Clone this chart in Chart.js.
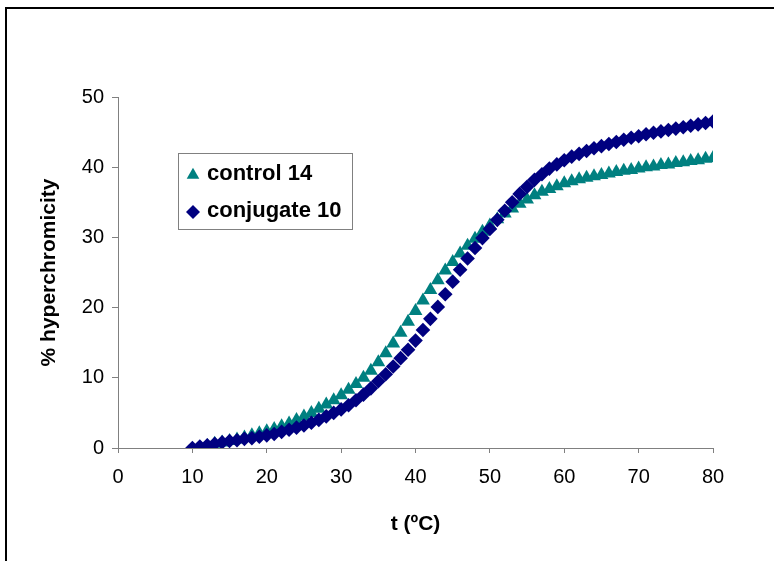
<!DOCTYPE html>
<html>
<head>
<meta charset="utf-8">
<script src="https://cdn.jsdelivr.net/npm/chart.js@4/dist/chart.umd.min.js"></script>
<style>
  body { margin: 0; background: #fff; }
  #wrap { position: relative; width: 774px; height: 561px; overflow: hidden; }
  #frame { position: absolute; left: 5px; top: 7px; width: 800px; height: 600px;
           border-top: 2px solid #000; border-left: 2px solid #000; pointer-events: none; }
</style>
</head>
<body>
<div id="wrap">
  <canvas id="chart" width="774" height="561"></canvas>
  <div id="frame"></div>
</div>
<script>
// temperature in degrees C, one reading per degree
var temps = [];
for (var t = 10; t <= 80; t++) temps.push(t);

var control14 = [
    -0.3, 0.0, 0.3, 0.6, 0.8, 1.0, 1.2, 1.5, 1.8, 2.1,
    2.4, 2.7, 3.1, 3.5, 4.0, 4.5, 5.0, 5.6, 6.2, 6.8,
    7.5, 8.3, 9.1, 10.0, 11.0, 12.2, 13.5, 14.9, 16.4, 18.0,
    19.5, 21.0, 22.5, 23.9, 25.3, 26.5, 27.7, 28.8, 29.8, 30.8,
    31.7, 32.6, 33.4, 34.1, 34.8, 35.4, 36.0, 36.5, 36.9, 37.3,
    37.7, 38.0, 38.3, 38.5, 38.7, 38.9, 39.1, 39.3, 39.5, 39.6,
    39.8, 40.0, 40.1, 40.3, 40.4, 40.6, 40.7, 40.9, 41.0, 41.2,
    41.3
];
var conjugate10 = [
    0.0, 0.2, 0.4, 0.6, 0.8, 1.0, 1.1, 1.3, 1.4, 1.6,
    1.8, 2.0, 2.3, 2.6, 2.9, 3.2, 3.6, 4.0, 4.5, 5.0,
    5.5, 6.1, 6.8, 7.6, 8.5, 9.5, 10.5, 11.6, 12.8, 14.0,
    15.3, 16.8, 18.4, 20.1, 21.9, 23.7, 25.4, 27.0, 28.5, 29.9,
    31.2, 32.5, 33.8, 35.0, 36.2, 37.2, 38.2, 39.0, 39.8, 40.4,
    41.0, 41.5, 41.9, 42.3, 42.7, 43.0, 43.3, 43.6, 43.9, 44.2,
    44.4, 44.7, 44.9, 45.1, 45.3, 45.5, 45.7, 45.9, 46.1, 46.3,
    46.5
];
var xTicks = [0, 10, 20, 30, 40, 50, 60, 70, 80];
var yTicks = [0, 10, 20, 30, 40, 50];

function toPoints(xs, ys) {
    return xs.map(function(x, i) { return {x: x, y: ys[i]}; });
}

var axisGray = '#808080';
var fontFamily = '"Liberation Sans", Arial, sans-serif';

// legend box drawn inside the plot, like the original
var boxLegend = {
    id: 'boxLegend',
    afterDraw: function(chart) {
        var ctx = chart.ctx;
        var items = [chart.data.datasets[0], chart.data.datasets[1]];
        var rows = [175, 212];
        var sizes = [7.3, 7];
        ctx.save();
        ctx.strokeStyle = axisGray;
        ctx.lineWidth = 1;
        ctx.strokeRect(178.5, 153.5, 174, 76);
        ctx.font = 'bold 22px ' + fontFamily;
        ctx.textBaseline = 'middle';
        items.forEach(function(ds, i) {
            ctx.fillStyle = ds.backgroundColor;
            ctx.strokeStyle = ds.borderColor;
            Chart.helpers.drawPoint(ctx, {
                pointStyle: ds.pointStyle,
                radius: sizes[i],
                rotation: 0,
                borderWidth: 0
            }, 193, rows[i]);
            ctx.fillStyle = '#000';
            ctx.fillText(ds.label, 207, rows[i] - 1);
        });
        ctx.restore();
    }
};

var chart = new Chart(document.getElementById('chart'), {
    type: 'scatter',
    data: {
        datasets: [{
            label: 'control 14',
            data: toPoints(temps, control14),
            pointStyle: 'triangle',
            pointRadius: 8,
            backgroundColor: '#008080',
            borderColor: '#008080',
            borderWidth: 0,
            order: 1
        }, {
            label: 'conjugate 10',
            data: toPoints(temps, conjugate10),
            pointStyle: 'rectRot',
            pointRadius: 7.3,
            backgroundColor: '#000080',
            borderColor: '#000080',
            borderWidth: 0,
            order: 0
        }]
    },
    options: {
        responsive: false,
        animation: false,
        events: [],
        layout: {
            padding: {left: 0, top: 97, right: 61, bottom: 0}
        },
        plugins: {
            legend: {display: false},
            tooltip: {enabled: false}
        },
        scales: {
            x: {
                type: 'linear',
                min: 0,
                max: 80,
                afterBuildTicks: function(scale) {
                    scale.ticks = xTicks.map(function(v) { return {value: v}; });
                },
                afterFit: function(scale) { scale.height = 113; },
                grid: {drawOnChartArea: false, drawTicks: true, tickLength: 5, color: axisGray},
                border: {color: axisGray, width: 1},
                ticks: {
                    color: '#000',
                    padding: 12,
                    maxRotation: 0,
                    font: {family: fontFamily, size: 20}
                },
                title: {
                    display: true,
                    text: 't (ºC)',
                    color: '#000',
                    padding: {top: 0, bottom: 24},
                    font: {family: fontFamily, size: 21, weight: 'bold'}
                }
            },
            y: {
                min: 0,
                max: 50,
                afterBuildTicks: function(scale) {
                    scale.ticks = yTicks.map(function(v) { return {value: v}; });
                },
                afterFit: function(scale) { scale.width = 118; },
                grid: {drawOnChartArea: false, drawTicks: true, tickLength: 6, color: axisGray},
                border: {color: axisGray, width: 1},
                ticks: {
                    color: '#000',
                    padding: 8,
                    font: {family: fontFamily, size: 20}
                },
                title: {
                    display: true,
                    text: '% hyperchromicity',
                    color: '#000',
                    padding: {top: 37, bottom: 0},
                    font: {family: fontFamily, size: 21, weight: 'bold'}
                }
            }
        }
    },
    plugins: [boxLegend]
});
</script>
</body>
</html>
